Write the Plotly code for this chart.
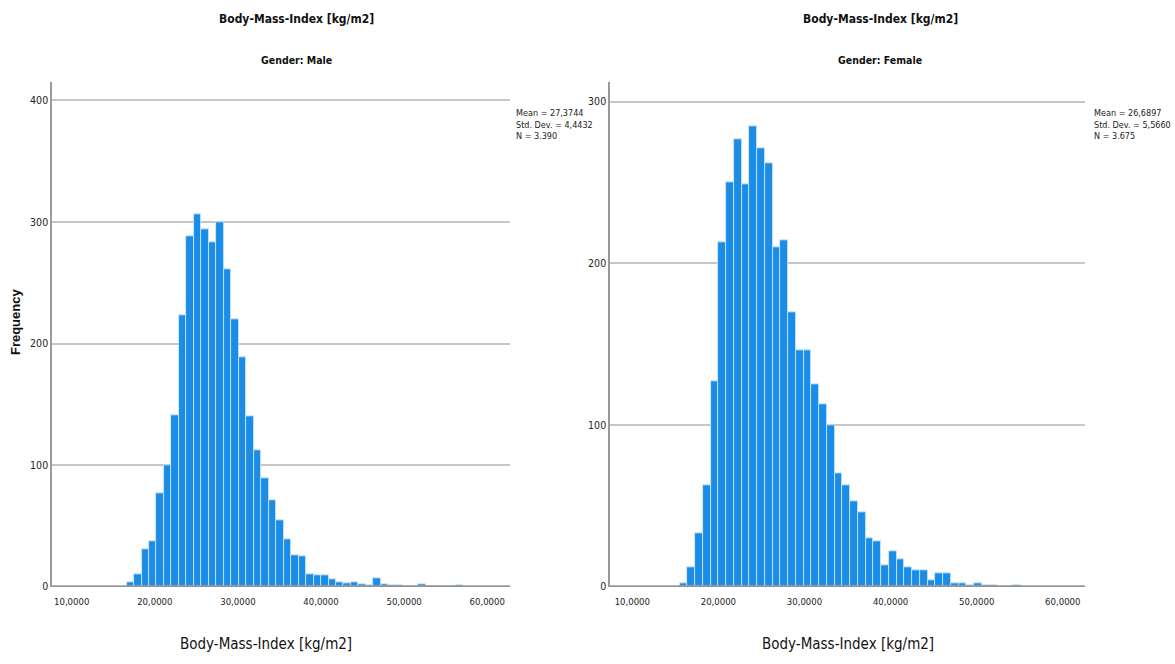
import plotly.graph_objects as go

# Histogram counts per BMI bin (bin width 0.9 kg/m2)
bin_width = 0.9
male_bin_start = 16.6
male_counts = [4, 10, 31, 37, 77, 100, 141, 223, 288, 306, 294, 283, 300, 261,
               220, 189, 140, 112, 89, 71, 55, 39, 26, 25, 10, 9, 9, 6, 4, 3,
               4, 2, 1, 7, 2, 1, 1, 0, 0, 2, 0, 0, 0, 0, 1]
female_bin_start = 15.5
female_counts = [2, 12, 33, 63, 127, 213, 250, 277, 249, 285, 271, 262, 210, 214,
                 170, 146, 146, 125, 113, 100, 70, 63, 53, 46, 30, 28, 13, 22, 17,
                 12, 10, 10, 4, 8, 8, 2, 2, 1, 2, 1, 1, 0, 0, 1]

x_tick_vals = [10, 20, 30, 40, 50, 60]
x_tick_text = ["10,0000", "20,0000", "30,0000", "40,0000", "50,0000", "60,0000"]
male_y_ticks = [0, 100, 200, 300, 400]
female_y_ticks = [0, 100, 200, 300]

male_stats = ["Mean = 27,3744", "Std. Dev. = 4,4432", "N = 3.390"]
female_stats = ["Mean = 26,6897", "Std. Dev. = 5,5660", "N = 3.675"]

main_title = "Body-Mass-Index [kg/m2]"
panel_titles = ["Gender: Male", "Gender: Female"]

BAR = "#1b8de6"
EDGE = "#d6eafb"
GRID = "#c6c6c6"
NARROW = ("DejaVu Sans Condensed, Noto Sans Condensed, Liberation Sans Narrow, "
          "Roboto Condensed, Liberation Sans, sans-serif")
W, H = 1175, 664


def centers(start, n):
    return [start + bin_width * (i + 0.5) for i in range(n)]


fig = go.Figure()
fig.add_trace(go.Bar(x=centers(male_bin_start, len(male_counts)), y=male_counts,
                     width=bin_width, marker=dict(color=BAR, line=dict(color=EDGE, width=0.8)),
                     xaxis="x", yaxis="y", showlegend=False))
fig.add_trace(go.Bar(x=centers(female_bin_start, len(female_counts)), y=female_counts,
                     width=bin_width, marker=dict(color=BAR, line=dict(color=EDGE, width=0.8)),
                     xaxis="x2", yaxis="y2", showlegend=False))

y_bottom = 1 - 592 / H
y_top = 1 - 83 / H

xaxis_common = dict(tickvals=x_tick_vals, ticktext=x_tick_text, showgrid=False,
                    zeroline=False, showline=False, ticks="", ticklabelstandoff=8,
                    tickfont=dict(family=NARROW, size=9.5, color="#222"))
yaxis_common = dict(showgrid=True, gridcolor=GRID, gridwidth=1.5, zeroline=False,
                    showline=True, linecolor="#9a9a9a", linewidth=1.5, ticks="",
                    tickfont=dict(family=NARROW, size=10.5, color="#222"))

fig.update_layout(
    width=W, height=H, margin=dict(l=0, r=0, t=0, b=0),
    paper_bgcolor="white", plot_bgcolor="white", bargap=0,
    xaxis=dict(domain=[52 / W, 510 / W], range=[7.63, 62.74], anchor="y", **xaxis_common),
    yaxis=dict(domain=[y_bottom, y_top], range=[0, 415], tickvals=male_y_ticks,
               anchor="x", **yaxis_common),
    xaxis2=dict(domain=[610 / W, 1085 / W], range=[7.41, 62.58], anchor="y2", **xaxis_common),
    yaxis2=dict(domain=[y_bottom, y_top], range=[0, 312], tickvals=female_y_ticks,
                anchor="x2", **yaxis_common),
)

# Baselines drawn as thick dark axis lines
for xref, yref in (("x", "y"), ("x2", "y2")):
    fig.add_shape(type="line", xref=f"{xref} domain", yref=yref, x0=0, x1=1, y0=0, y1=0,
                  line=dict(color="#6e6e6e", width=2.5))

annotations = []
for cx, bx, panel, stats, sx in ((296, 266, panel_titles[0], male_stats, 514),
                                 (880, 848, panel_titles[1], female_stats, 1092)):
    annotations.append(dict(text=f"<b>{main_title}</b>", x=cx / W, y=1 - 19 / H,
                            xref="paper", yref="paper", xanchor="center", yanchor="middle",
                            showarrow=False, font=dict(family=NARROW, size=12, color="#111")))
    annotations.append(dict(text=f"<b>{panel}</b>", x=cx / W, y=1 - 61 / H, xref="paper",
                            yref="paper", xanchor="center", yanchor="middle", showarrow=False,
                            font=dict(family=NARROW, size=10.5, color="#111")))
    annotations.append(dict(text=main_title, x=bx / W, y=1 - 650 / H, xref="paper",
                            yref="paper", xanchor="center", yanchor="middle", showarrow=False,
                            font=dict(family=NARROW, size=15, color="#111")))
    annotations.append(dict(text="<br>".join(stats), x=sx / W, y=1 - 107 / H, xref="paper",
                            yref="paper", xanchor="left", yanchor="top", align="left",
                            showarrow=False,
                            font=dict(family=NARROW, size=9, color="#222")))

annotations.append(dict(text="<b>Frequency</b>", x=15 / W, y=1 - 325 / H, xref="paper",
                        yref="paper", xanchor="center", yanchor="middle", textangle=-90,
                        showarrow=False,
                        font=dict(family="Liberation Sans, Arial, sans-serif", size=13,
                                  color="#111")))
fig.update_layout(annotations=annotations)

fig.write_html("out.html")
